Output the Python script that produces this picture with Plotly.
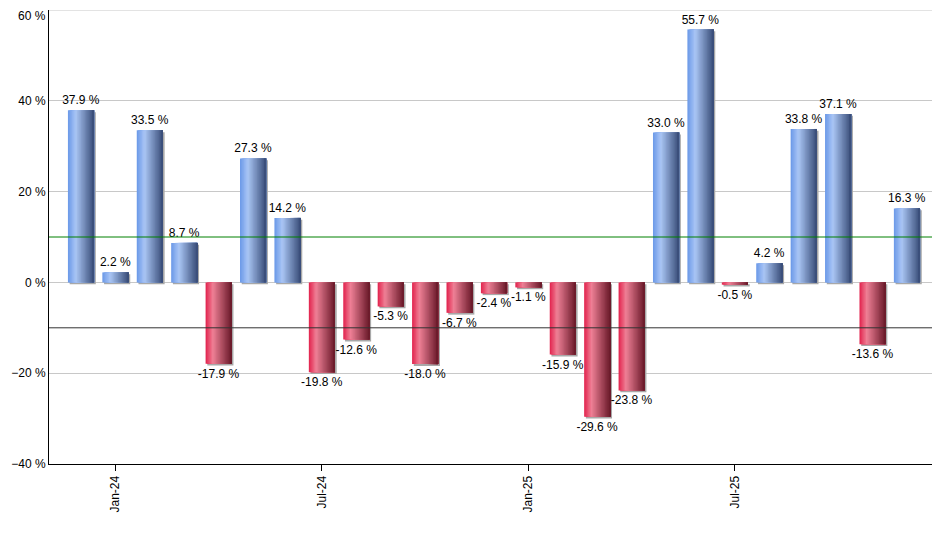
import plotly.graph_objects as go

# Données mensuelles (déc. 2023 -> déc. 2025), variations en %
mois = ["Dec-23", "Jan-24", "Feb-24", "Mar-24", "Apr-24", "May-24", "Jun-24",
        "Jul-24", "Aug-24", "Sep-24", "Oct-24", "Nov-24", "Dec-24",
        "Jan-25", "Feb-25", "Mar-25", "Apr-25", "May-25", "Jun-25",
        "Jul-25", "Aug-25", "Sep-25", "Oct-25", "Nov-25", "Dec-25"]
valeurs = [37.9, 2.2, 33.5, 8.7, -17.9, 27.3, 14.2, -19.8, -12.6, -5.3, -18.0,
           -6.7, -2.4, -1.1, -15.9, -29.6, -23.8, 33.0, 55.7, -0.5, 4.2, 33.8,
           37.1, -13.6, 16.3]
ticks_affiches = ["Jan-24", "Jul-24", "Jan-25", "Jul-25"]
y_min, y_max = -40, 60

x = list(range(len(mois)))
largeur = 0.76

# Dégradés horizontaux (gauche -> droite)
stops_bleu = [(0.0, (106, 152, 232)), (0.3, (170, 198, 245)), (1.0, (55, 75, 118))]
stops_rouge = [(0.0, (226, 34, 76)), (0.28, (238, 128, 150)), (1.0, (104, 24, 40))]


def couleur(stops, t):
    for (t0, c0), (t1, c1) in zip(stops[:-1], stops[1:]):
        if t <= t1:
            f = (t - t0) / (t1 - t0)
            c = [round(a + (b - a) * f) for a, b in zip(c0, c1)]
            return "rgb(%d,%d,%d)" % tuple(c)
    return "rgb(%d,%d,%d)" % stops[-1][1]


fig = go.Figure()

# ombre grise décalée
fig.add_trace(go.Bar(
    x=x, y=valeurs, base=-0.4, width=largeur, offset=-largeur / 2 + 0.05,
    marker=dict(color="#a8a8a8", line=dict(width=0)), hoverinfo="skip",
))

# barres découpées en tranches pour simuler le dégradé
# (chaque tranche va jusqu'au bord droit, la suivante la recouvre)
n = 20
for i in range(n):
    t = (i + 0.5) / n
    couleurs = [couleur(stops_bleu if v >= 0 else stops_rouge, t) for v in valeurs]
    fig.add_trace(go.Bar(
        x=x, y=valeurs, width=largeur - i * largeur / n,
        offset=-largeur / 2 + i * largeur / n,
        marker=dict(color=couleurs, line=dict(width=0)), hoverinfo="skip",
    ))

# étiquettes des valeurs
fig.add_trace(go.Bar(
    x=x, y=valeurs, width=largeur,
    marker=dict(color="rgba(0,0,0,0)", line=dict(width=0)),
    text=["%.1f %%" % v for v in valeurs], textposition="outside",
    constraintext="none", cliponaxis=False,
    textfont=dict(family="Liberation Sans", size=12, color="black"),
    hoverinfo="skip",
))

# lignes horizontales de référence
fig.add_shape(type="line", xref="paper", x0=0, x1=1, y0=10, y1=10,
              line=dict(color="#008000", width=1))
fig.add_shape(type="line", xref="paper", x0=0, x1=1, y0=-10, y1=-10,
              line=dict(color="#333333", width=1))
# grille du haut (bord de la zone de tracé)
fig.add_shape(type="line", xref="paper", x0=0, x1=1, y0=y_max, y1=y_max,
              line=dict(color="#c8c8c8", width=1))
# libellé du haut, coupé sinon par plotly
fig.add_annotation(xref="paper", x=0, y=y_max, text="%d %%" % y_max,
                   showarrow=False, xanchor="right", yanchor="top",
                   xshift=-2, yshift=2, borderpad=0,
                   font=dict(family="Liberation Sans", size=12, color="black"))

# la page ajoute une marge de 8 px autour de la figure
fig.update_layout(
    width=932, height=542,
    margin=dict(l=41, r=0, t=2, b=86),
    barmode="overlay", showlegend=False,
    plot_bgcolor="white", paper_bgcolor="white",
    font=dict(family="Liberation Sans", size=12, color="black"),
    xaxis=dict(
        range=[-0.93, 24.96], automargin=False,
        tickvals=[mois.index(m) for m in ticks_affiches], ticktext=ticks_affiches,
        tickangle=-90, ticks="outside", ticklen=6, tickcolor="black",
        showline=True, linecolor="black", linewidth=1, showgrid=False,
        zeroline=False,
    ),
    yaxis=dict(
        range=[y_min, y_max], dtick=20, ticksuffix=" %", automargin=False,
        showline=True, linecolor="black", linewidth=1,
        showgrid=True, gridcolor="#c8c8c8", zeroline=False, ticks="",
    ),
)

fig.write_html("out.html")
